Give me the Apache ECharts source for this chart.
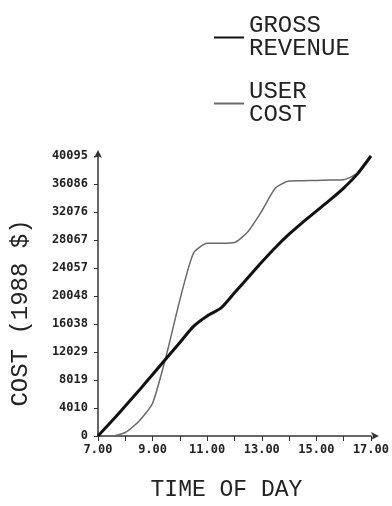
<!DOCTYPE html>
<html>
<head>
<meta charset="utf-8">
<script src="https://cdn.jsdelivr.net/npm/echarts@6/dist/echarts.min.js"></script>
<style>
  html, body { margin: 0; padding: 0; background: #fff; }
  #chart { width: 392px; height: 506px; }
</style>
</head>
<body>
<div id="chart"></div>
<script>
// Hour of day, every half hour
const hours = [7, 7.5, 8, 8.5, 9, 9.5, 10, 10.5, 11, 11.5, 12, 12.5, 13, 13.5, 14, 14.5, 15, 15.5, 16, 16.5, 17];

// Gross revenue, 1988 dollars
const grossRevenue = [0, 2100, 4300, 6500, 8800, 11100, 13400, 15700, 17200, 18300, 20500, 22700, 24900, 27000, 28900, 30600, 32200, 33800, 35500, 37500, 40095];

// User cost, 1988 dollars
const userCost = [0, 0, 500, 2100, 4700, 11500, 19500, 26200, 27600, 27600, 27700, 29300, 32200, 35500, 36500, 36550, 36600, 36650, 36700, 37600, 40095];

const seriesNames = ['GROSS\nREVENUE', 'USER\nCOST'];

const xTickHours = [7, 9, 11, 13, 15, 17];
const xTickLabels = ['7.00', '9.00', '11.00', '13.00', '15.00', '17.00'];
const yTickLabels = ['0', '4010', '8019', '12029', '16038', '20048', '24057', '28067', '32076', '36086', '40095'];
const yMax = 40095;
const yStep = yMax / 10;

const typeFont = '"Liberation Mono", "DejaVu Sans Mono", monospace';
const tickFont = '"DejaVu Sans Mono", monospace';

const chart = echarts.init(document.getElementById('chart'), null, { renderer: 'canvas' });

const pairs = (vals) => hours.map((h, i) => [h, vals[i]]);

chart.setOption({
  animation: false,
  backgroundColor: '#ffffff',
  grid: { left: 98, right: 14, top: 156, bottom: 63, containLabel: false },
  legend: {
    orient: 'vertical',
    left: 208,
    top: 9,
    itemWidth: 30,
    itemHeight: 14,
    itemGap: 19,
    itemTextGap: 9,
    itemStyle: { color: 'transparent', borderColor: 'transparent', borderWidth: 0 },
    textStyle: {
      fontFamily: typeFont,
      fontSize: 24,
      lineHeight: 23,
      color: '#222'
    },
    data: seriesNames
  },
  xAxis: {
    type: 'value',
    min: 7,
    max: 17,
    interval: 1,
    name: 'TIME OF DAY',
    nameLocation: 'middle',
    nameGap: 42,
    nameTextStyle: {
      fontFamily: typeFont,
      fontSize: 23,
      color: '#222',
      padding: [0, 16, 0, 0]
    },
    axisLine: {
      lineStyle: { color: '#333', width: 1.5 },
      symbol: ['none', 'arrow'],
      symbolSize: [6, 8],
      symbolOffset: [0, 8]
    },
    axisTick: { show: true, length: 5, lineStyle: { color: '#333', width: 1 } },
    axisLabel: {
      margin: 8,
      fontFamily: tickFont,
      fontWeight: 'bold',
      fontSize: 12,
      color: '#222',
      formatter: (v) => {
        const i = xTickHours.indexOf(Math.round(v));
        return i >= 0 ? xTickLabels[i] : '';
      }
    },
    splitLine: { show: false }
  },
  yAxis: {
    type: 'value',
    min: 0,
    max: yMax,
    interval: yStep,
    name: 'COST (1988 $)',
    nameLocation: 'middle',
    nameRotate: 90,
    nameGap: 65,
    nameTextStyle: {
      fontFamily: typeFont,
      fontSize: 24,
      color: '#222',
      padding: [0, 34, 0, 0]
    },
    axisLine: {
      show: true,
      lineStyle: { color: '#333', width: 1.5 },
      symbol: ['none', 'arrow'],
      symbolSize: [6, 8],
      symbolOffset: [0, 6]
    },
    axisTick: { show: true, length: 4, lineStyle: { color: '#333', width: 1 } },
    axisLabel: {
      margin: 10,
      fontFamily: tickFont,
      fontWeight: 'bold',
      fontSize: 12,
      color: '#222',
      formatter: (v) => yTickLabels[Math.round(v / yStep)] || ''
    },
    splitLine: { show: false }
  },
  series: [
    {
      name: seriesNames[0],
      type: 'line',
      data: pairs(grossRevenue),
      showSymbol: false,
      symbol: 'none',
      smooth: 0.2,
      lineStyle: { color: '#111', width: 3 },
      itemStyle: { color: '#111' },
      z: 3
    },
    {
      name: seriesNames[1],
      type: 'line',
      data: pairs(userCost),
      showSymbol: false,
      symbol: 'none',
      smooth: 0.2,
      lineStyle: { color: '#6a6a6a', width: 1.5 },
      itemStyle: { color: '#6a6a6a' },
      z: 2
    }
  ]
});
</script>
</body>
</html>
